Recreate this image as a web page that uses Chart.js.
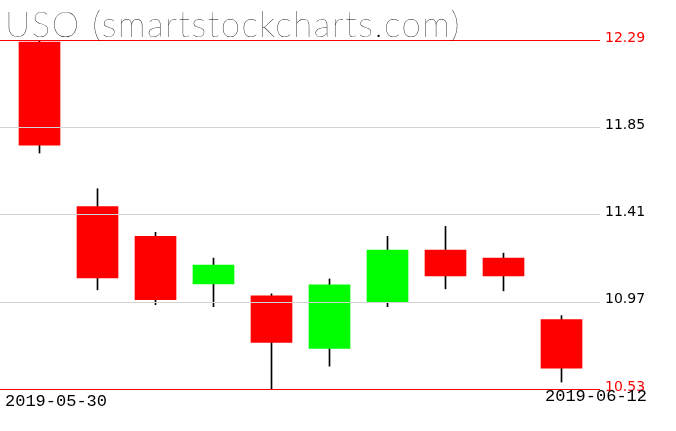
<!DOCTYPE html>
<html>
<head>
<meta charset="utf-8">
<script src="https://cdn.jsdelivr.net/npm/chart.js@4.4.1/dist/chart.umd.min.js"></script>
<style>
  html, body { margin: 0; padding: 0; background: #fff; }
  #wrap { width: 676px; height: 431px; }
</style>
</head>
<body>
<div id="wrap"><canvas id="myChart" width="676" height="431"></canvas></div>
<script>
//date
const titlu = "USO (smartstockcharts.com)";
const zile = ["2019-05-30", "2019-05-31", "2019-06-03", "2019-06-04", "2019-06-05",
  "2019-06-06", "2019-06-07", "2019-06-10", "2019-06-11", "2019-06-12"];
const deschidere = [12.28, 11.45, 11.30, 11.06, 11.00, 10.735, 10.97, 11.23, 11.19, 10.88];
const inchidere = [11.76, 11.09, 10.98, 11.155, 10.765, 11.055, 11.23, 11.10, 11.10, 10.635];
const maxim = [12.29, 11.54, 11.32, 11.19, 11.01, 11.085, 11.30, 11.35, 11.215, 10.90];
const minim = [11.72, 11.03, 10.955, 10.945, 10.53, 10.645, 10.945, 11.035, 11.025, 10.565];
const valoriAxa = [10.53, 10.97, 11.41, 11.85, 12.29];

const rosu = "#ff0000";
const verde = "#00ff00";

const corpuri = zile.map((z, i) => ({ x: i, y: [deschidere[i], inchidere[i]] }));
const fitile = zile.map((z, i) => ({ x: i, y: [minim[i], maxim[i]] }));
const culori = zile.map((z, i) => (inchidere[i] < deschidere[i] ? rosu : verde));
const culoriTicks = valoriAxa.map((v, i) => (i === 0 || i === valoriAxa.length - 1 ? rosu : "#000"));

// liniile orizontale (peste lumanari), titlul si prima/ultima data
const textePlugin = {
  id: "texte",
  afterDatasetsDraw(chart) {
    const c = chart.ctx;
    const y = chart.scales.y;
    c.save();
    c.lineWidth = 1;
    valoriAxa.forEach((v, i) => {
      const py = Math.round(y.getPixelForValue(v)) + 0.5;
      c.strokeStyle = i === 0 || i === valoriAxa.length - 1 ? rosu : "#d3d3d3";
      c.beginPath();
      c.moveTo(0, py);
      c.lineTo(chart.chartArea.right, py);
      c.stroke();
    });
    c.restore();
  },
  afterDraw(chart) {
    const c = chart.ctx;
    c.save();
    c.fillStyle = "#000";
    c.textBaseline = "alphabetic";
    c.textAlign = "left";
    c.font = "200 35px Lato";
    c.letterSpacing = "1.5px";
    c.fillText(titlu, 5, 37);
    c.letterSpacing = "0px";
    c.font = "17px 'Liberation Mono'";
    c.fillText(zile[0], 5, 406);
    c.textAlign = "right";
    c.fillText(zile[zile.length - 1], 647, 401);
    c.restore();
  },
};

const ctx = document.getElementById("myChart");
new Chart(ctx, {
  type: "bar",
  data: {
    datasets: [
      {
        label: "corp",
        data: corpuri,
        backgroundColor: culori,
        borderWidth: 0,
        barThickness: 41,
        grouped: false,
      },
      {
        label: "fitil",
        data: fitile,
        backgroundColor: "#000",
        borderWidth: 0,
        barThickness: 1,
        grouped: false,
      },
    ],
  },
  options: {
    responsive: false,
    animation: false,
    layout: { padding: { top: 40, left: 0, right: 0, bottom: 42 } },
    plugins: {
      legend: { display: false },
      tooltip: { enabled: false },
    },
    scales: {
      x: {
        type: "linear",
        display: false,
        offset: false,
        min: -39.5 / 58,
        max: 560.5 / 58,
      },
      y: {
        position: "right",
        min: valoriAxa[0],
        max: valoriAxa[valoriAxa.length - 1],
        afterBuildTicks(axis) {
          axis.ticks = valoriAxa.map((v) => ({ value: v }));
        },
        afterFit(axis) {
          axis.width = 76;
        },
        border: { display: false },
        grid: { display: false, drawTicks: false },
        ticks: {
          padding: 5,
          labelOffset: -2,
          font: { family: "'DejaVu Sans'", size: 14 },
          color: culoriTicks,
          callback: (v) => v.toFixed(2),
        },
      },
    },
  },
  plugins: [textePlugin],
});
</script>
</body>
</html>
